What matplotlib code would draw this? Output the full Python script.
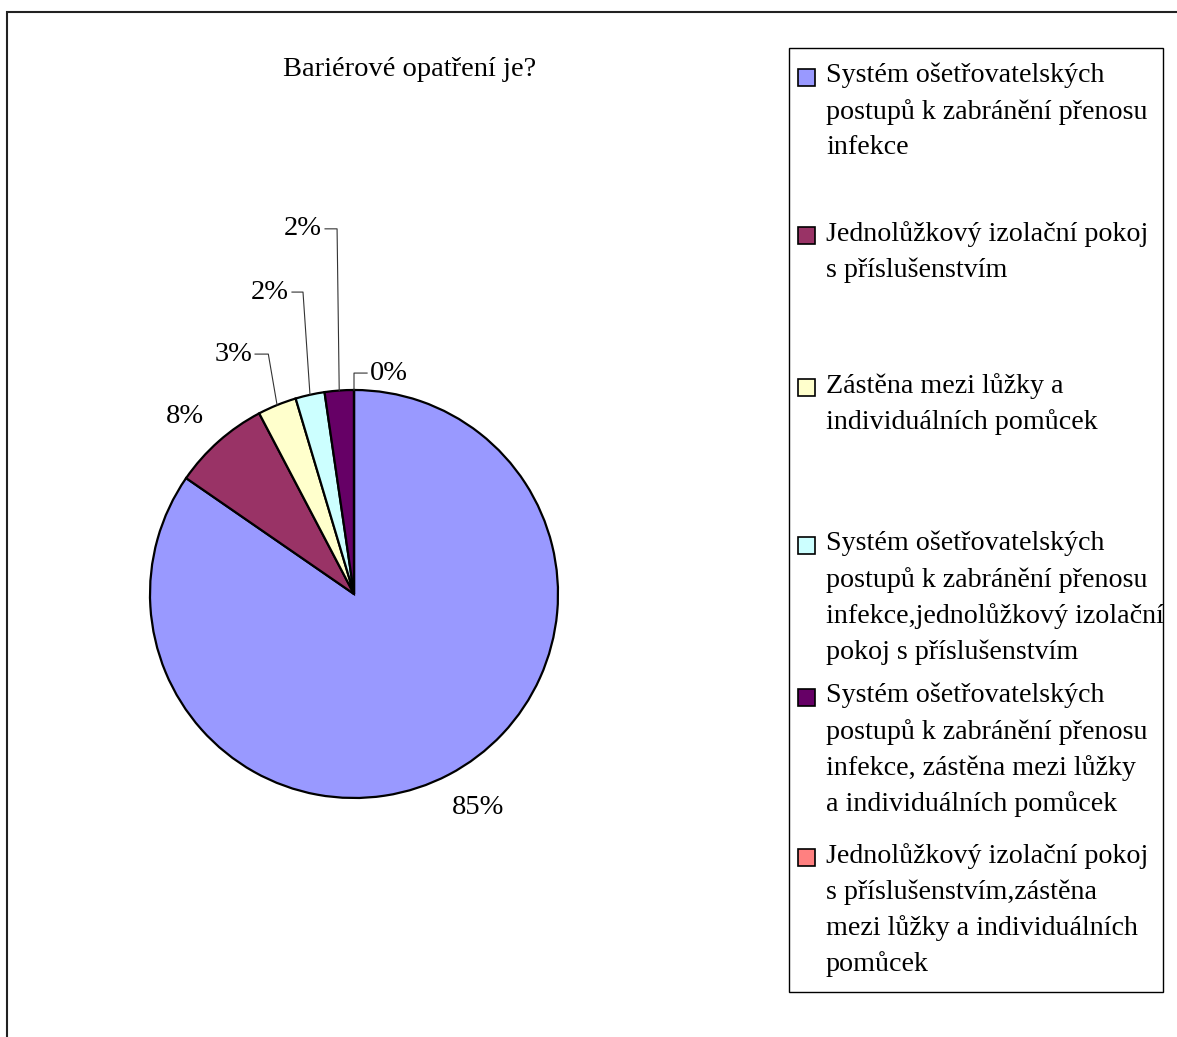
import math
import matplotlib.pyplot as plt
from matplotlib.patches import Rectangle

plt.rcParams['font.family'] = ['Liberation Serif', 'DejaVu Serif']

# data
title = 'Bariérové opatření je?'
categories = [
    'Systém ošetřovatelských\npostupů k zabránění přenosu\ninfekce',
    'Jednolůžkový izolační pokoj\ns příslušenstvím',
    'Zástěna mezi lůžky a\nindividuálních pomůcek',
    'Systém ošetřovatelských\npostupů k zabránění přenosu\ninfekce,jednolůžkový izolační\npokoj s příslušenstvím',
    'Systém ošetřovatelských\npostupů k zabránění přenosu\ninfekce, zástěna mezi lůžky\na individuálních pomůcek',
    'Jednolůžkový izolační pokoj\ns příslušenstvím,zástěna\nmezi lůžky a individuálních\npomůcek',
]
counts = [110, 10, 4, 3, 3, 0]
colors = ['#9999FF', '#993366', '#FFFFCC', '#CCFFFF', '#660066', '#FF8080']

W, H = 1177, 1037
fig = plt.figure(figsize=(W / 100, H / 100), dpi=100)

# outer frame (right and bottom run off the picture)
fig.patches.append(Rectangle((7 / W, -0.1), 1.2, 1 - 12 / H + 0.1, transform=fig.transFigure,
                             fill=False, edgecolor='#222222', lw=1.5))

# pie: center at (354, 594) px, radius 204 px
cx, cy, R = 354, 594, 204
ax = fig.add_axes([0, 0, 780 / W, 1])

wedges, _ = ax.pie(counts, colors=colors, startangle=90, counterclock=False, radius=1,
                   wedgeprops=dict(edgecolor='black', linewidth=1.6))
ax.set_aspect('auto')
ax.set_xlim(-cx / R, (780 - cx) / R)
ax.set_ylim((cy - H) / R, cy / R)
ax.axis('off')

total = sum(counts)
pcts = ['%d%%' % round(c * 100 / total) for c in counts]
fs = 20.5

# labels without leader
ax.text(0.608, -1.049, pcts[0], ha='center', va='center', fontsize=fs)
ax.text(-0.828, 0.868, pcts[1], ha='center', va='center', fontsize=fs)

# labels with leader lines: (elbow x, elbow y, end x)
leaders = {2: (-0.42, 1.176, -0.485), 3: (-0.25, 1.48, -0.304),
           4: (-0.083, 1.79, -0.142), 5: (0.0, 1.083, 0.064)}
for i, (ex, ey, tx) in leaders.items():
    w = wedges[i]
    mid = math.radians((w.theta1 + w.theta2) / 2)
    px, py = math.cos(mid), math.sin(mid)
    ax.plot([px, ex, tx], [py, ey, ey], color='#333333', lw=0.8, clip_on=False)
    if tx < ex:
        ax.text(tx - 0.015, ey, pcts[i], ha='right', va='center', fontsize=fs)
    else:
        ax.text(tx + 0.015, ey, pcts[i], ha='left', va='center', fontsize=fs)

fig.text(410 / W, 1 - 70 / H, title, ha='center', va='center', fontsize=fs)

# legend box
fig.patches.append(Rectangle((789 / W, 1 - 992 / H), (1163 - 789) / W, (992 - 48) / H,
                             transform=fig.transFigure, fill=False, edgecolor='black', lw=1.0))
entry_y = [77, 235, 387, 545, 697, 857]
for lab, col, y in zip(categories, colors, entry_y):
    fig.patches.append(Rectangle((798 / W, 1 - (y + 9) / H), 17 / W, 17 / H,
                                 transform=fig.transFigure, facecolor=col,
                                 edgecolor='black', lw=1.2))
    fig.text(826 / W, 1 - (y - 14) / H, lab, ha='left', va='top', fontsize=20.2,
             linespacing=1.52)

fig.savefig('out.png', dpi=100)
